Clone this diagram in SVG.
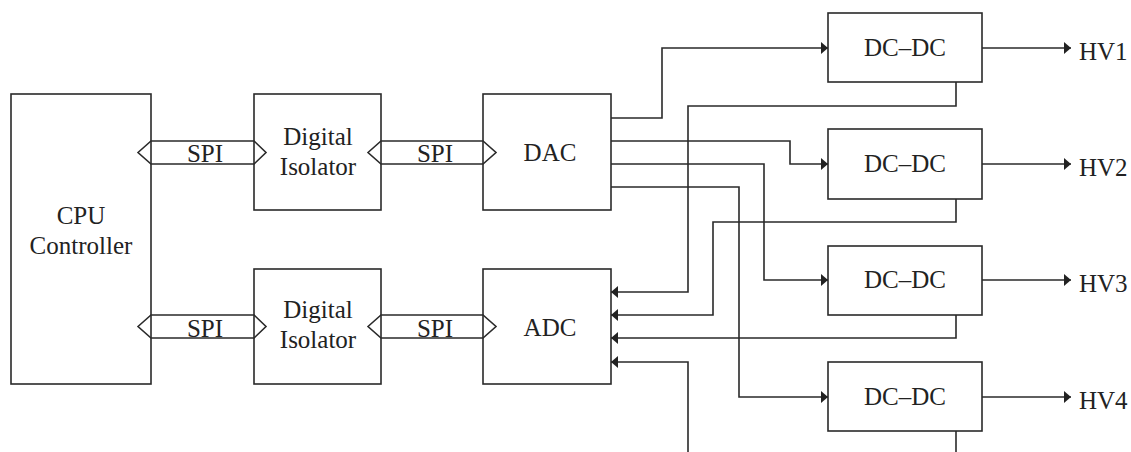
<svg xmlns="http://www.w3.org/2000/svg" width="1131" height="452" viewBox="0 0 1131 452">
<style>
.box{fill:none;stroke:#2a2a2a;stroke-width:1.6}
.bus{fill:none;stroke:#2a2a2a;stroke-width:1.6;stroke-linejoin:miter}
.w{fill:none;stroke:#2a2a2a;stroke-width:1.6}
text{font-family:'Liberation Serif','DejaVu Serif','Noto Serif',serif;font-size:25px;fill:#222}
.t{text-anchor:middle}
.n{font-family:'DejaVu Serif','Liberation Serif',serif;font-size:22px}
</style>
<defs>
<marker id="ah" markerUnits="userSpaceOnUse" markerWidth="8" markerHeight="13" refX="7" refY="6" orient="auto">
<path d="M0,0 L7,6 L0,12 z" fill="#222"/>
</marker>
</defs>
<rect width="1131" height="452" fill="#fff"/>

<g id="cpu">
<rect class="box" x="11" y="94" width="140" height="290"/>
<text class="t" x="81" y="224">CPU</text>
<text class="t" x="81" y="254">Controller</text>
</g>
<g id="iso1">
<rect class="box" x="254" y="94" width="127" height="116"/>
<text class="t" x="318" y="145">Digital</text>
<text class="t" x="318" y="175">Isolator</text>
</g>
<g id="iso2">
<rect class="box" x="254" y="269" width="127" height="115"/>
<text class="t" x="318" y="318">Digital</text>
<text class="t" x="318" y="348">Isolator</text>
</g>
<g id="dac">
<rect class="box" x="483" y="94" width="128" height="116"/>
<text class="t" x="550" y="161">DAC</text>
</g>
<g id="adc">
<rect class="box" x="483" y="269" width="128" height="115"/>
<text class="t" x="550" y="336">ADC</text>
</g>
<g id="dcdc1">
<rect class="box" x="828" y="13" width="154" height="69"/>
<text class="t" x="905" y="56">DC–DC</text>
</g>
<g id="dcdc2">
<rect class="box" x="828" y="129" width="154" height="70"/>
<text class="t" x="905" y="172">DC–DC</text>
</g>
<g id="dcdc3">
<rect class="box" x="828" y="246" width="154" height="69"/>
<text class="t" x="905" y="288">DC–DC</text>
</g>
<g id="dcdc4">
<rect class="box" x="828" y="362" width="154" height="69"/>
<text class="t" x="905" y="405">DC–DC</text>
</g>
<g id="hv1"><text x="1079" y="60">HV1</text></g>
<g id="hv2"><text x="1079" y="176">HV2</text></g>
<g id="hv3"><text x="1079" y="292">HV3</text></g>
<g id="hv4"><text x="1079" y="409">HV4</text></g>

<g id="connectors">
<polygon class="bus" points="138,152.5 151,141 254,141 266,152.5 254,164 151,164"/>
<text class="t" x="205" y="162">SPI</text>
<polygon class="bus" points="368,152.5 381,141 483,141 496,152.5 483,164 381,164"/>
<text class="t" x="435" y="162">SPI</text>
<polygon class="bus" points="138,326.5 151,315 254,315 266,326.5 254,338 151,338"/>
<text class="t" x="205" y="337">SPI</text>
<polygon class="bus" points="368,326.5 381,315 483,315 496,326.5 483,338 381,338"/>
<text class="t" x="435" y="337">SPI</text>

<polyline class="w" points="611,118 662,118 662,48 828,48" marker-end="url(#ah)"/>
<polyline class="w" points="611,141 790,141 790,164 828,164" marker-end="url(#ah)"/>
<polyline class="w" points="611,164 764,164 764,280 828,280" marker-end="url(#ah)"/>
<polyline class="w" points="611,187 739,187 739,397 828,397" marker-end="url(#ah)"/>

<polyline class="w" points="956,82 956,106 688,106 688,292 611,292" marker-end="url(#ah)"/>
<polyline class="w" points="956,199 956,222 713,222 713,315 611,315" marker-end="url(#ah)"/>
<polyline class="w" points="956,315 956,338 611,338" marker-end="url(#ah)"/>
<polyline class="w" points="688,452 688,362 611,362" marker-end="url(#ah)"/>
<line class="w" x1="956" y1="431" x2="956" y2="452"/>

<line class="w" x1="982" y1="48" x2="1071" y2="48" marker-end="url(#ah)"/>
<line class="w" x1="982" y1="164" x2="1071" y2="164" marker-end="url(#ah)"/>
<line class="w" x1="982" y1="280" x2="1071" y2="280" marker-end="url(#ah)"/>
<line class="w" x1="982" y1="397" x2="1071" y2="397" marker-end="url(#ah)"/>
</g>
</svg>
